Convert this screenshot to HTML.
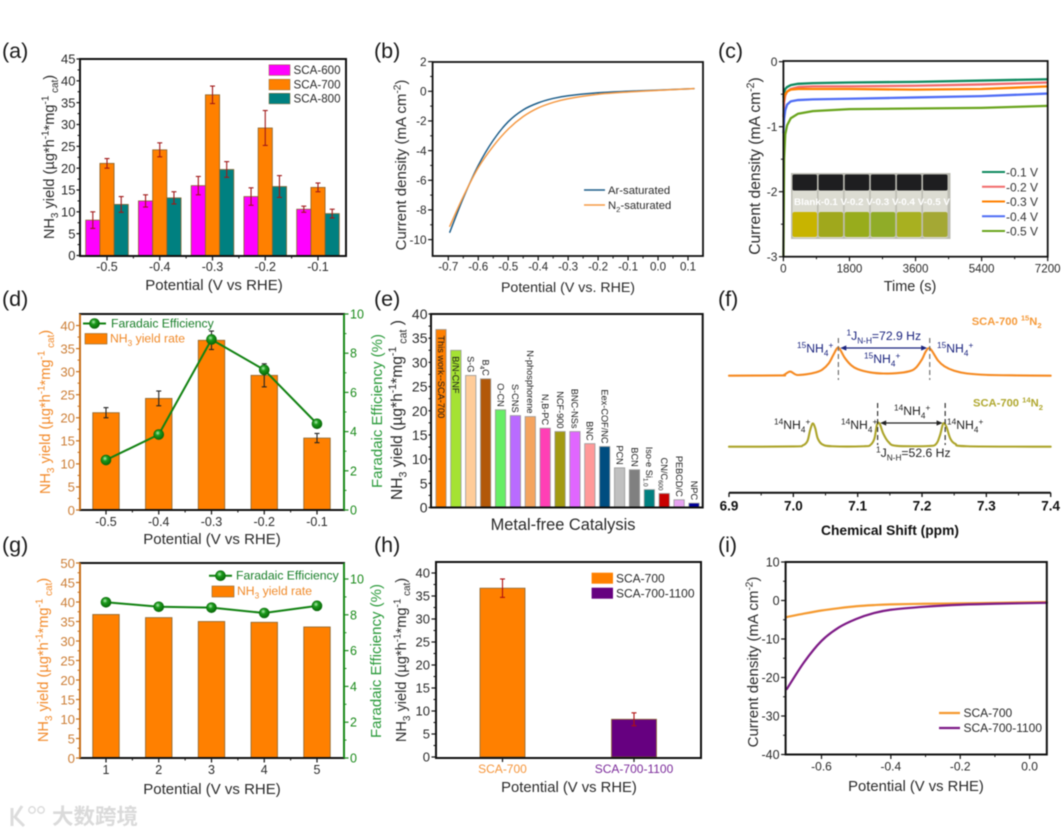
<!DOCTYPE html>
<html lang="en">
<head>
<meta charset="utf-8">
<title>NH3 electrocatalysis figure</title>
<style>
html,body{margin:0;padding:0;background:#fff;}
body{width:1062px;height:834px;overflow:hidden;}
svg{display:block;filter:blur(0.5px);}
text{font-family:"Liberation Sans","Noto Sans CJK SC",sans-serif;}
</style>
</head>
<body>
<svg id="figure" xmlns="http://www.w3.org/2000/svg" width="1062" height="834" viewBox="0 0 1062 834">
<defs>
<radialGradient id="ballGrad" cx="40%" cy="35%" r="70%">
<stop offset="0%" stop-color="#b5efb5"/>
<stop offset="35%" stop-color="#1c9a1c"/>
<stop offset="100%" stop-color="#056305"/>
</radialGradient>
</defs>
</svg>
<script>
/* ---------- panel (a) ---------- */
const aCategories = ['-0.5','-0.4','-0.3','-0.2','-0.1'];
const aSca600 = [8.1,12.5,16,13.5,10.6];
const aSca700 = [21.1,24.2,36.8,29.2,15.6];
const aSca800 = [11.7,13.2,19.7,15.8,9.6];
const aErr600 = [1.9,1.4,2.1,2,0.7];
const aErr700 = [1.1,1.6,2,4,1];
const aErr800 = [1.8,1.4,1.8,2.5,1];
const aTicks = [0,5,10,15,20,25,30,35,40,45];
/* ---------- panel (b) ---------- */
const bPotential = [-0.695,-0.65,-0.6,-0.55,-0.5,-0.45,-0.4,-0.35,-0.3,-0.2,-0.1,0,0.12];
const bAr = [-9.5,-7.2,-5.0,-3.3,-2.05,-1.25,-0.78,-0.48,-0.3,-0.1,0,0.08,0.18];
const bN2 = [-9.1,-7.1,-5.15,-3.7,-2.55,-1.7,-1.12,-0.75,-0.5,-0.2,-0.05,0.06,0.18];
const bXTicks = [-0.7,-0.6,-0.5,-0.4,-0.3,-0.2,-0.1,0,0.1];
const bYTicks = [2,0,-2,-4,-6,-8,-10];
/* ---------- panel (c) ---------- */
const cTime = [0,20,50,100,200,400,800,1800,3600,5400,7200];
const cV1 = [-0.55,-0.47,-0.42,-0.39,-0.36,-0.34,-0.33,-0.32,-0.31,-0.29,-0.27];
const cV2 = [-0.85,-0.62,-0.52,-0.46,-0.42,-0.39,-0.38,-0.38,-0.37,-0.35,-0.32];
const cV3 = [-0.62,-0.55,-0.5,-0.46,-0.43,-0.42,-0.42,-0.42,-0.43,-0.42,-0.38];
const cV4 = [-1.1,-0.88,-0.75,-0.66,-0.61,-0.59,-0.58,-0.57,-0.55,-0.53,-0.49];
const cV5 = [-3,-1.5,-1.12,-0.98,-0.87,-0.8,-0.76,-0.73,-0.72,-0.71,-0.68];
const cSeriesNames = ['-0.1 V','-0.2 V','-0.3 V','-0.4 V','-0.5 V'];
const cXTicks = [0,1800,3600,5400,7200];
const cYTicks = [0,-1,-2,-3];
/* ---------- panel (d) ---------- */
const dCategories = ['-0.5','-0.4','-0.3','-0.2','-0.1'];
const dYield = [21.1,24.2,36.8,29.2,15.6];
const dErr = [1.1,1.6,2,2.5,1];
const dFE = [2.55,3.85,8.7,7.15,4.4];
const dYTicks = [0,5,10,15,20,25,30,35,40];
const dFETicks = [0,2,4,6,8,10];
/* ---------- panel (e) ---------- */
const eCatalysts = ['This work--SCA-700','B/N-CNF','S-G','B_{4}C','O-CN','S-CNS','N-phosphorene','N,B-PC','NCF-900','BNC-NSs','BNC','Eex-COF/NC','PCN','BCN','Iso-e Si_{1.0}','CN/C_{600}','PEBCD/C','NPC'];
const eValues = [36.8,32.5,27.3,26.6,20.2,19,18.8,16.4,15.7,15.7,13.2,12.6,8.2,7.8,3.7,2.9,1.6,0.9];
const eColors = ['#ff8000','#a5e233','#ffcc99','#b25809','#66ee66','#b96bff','#f4a460','#ff3fb5','#a39a12','#e066ff','#ff9999','#004d80','#c0c0c0','#808080','#008080','#c80000','#e6a0f0','#000099'];
const eTicks = [0,5,10,15,20,25,30,35,40];
/* ---------- panel (f) ---------- */
const fPpmOrange = [6.9,6.98,6.985,6.995,7.005,7.02,7.035,7.045,7.055,7.062,7.068,7.072,7.08,7.09,7.1,7.12,7.14,7.16,7.18,7.19,7.2,7.205,7.21,7.215,7.225,7.235,7.25,7.27,7.3,7.35,7.4];
const fOrange = [0,1,2,15,3,5,12,22,45,75,100,98,65,38,24,12,8,9,16,28,60,85,100,92,55,34,18,8,3,1,0];
const fPpmOlive = [6.9,7.0,7.015,7.022,7.026,7.03,7.034,7.038,7.045,7.06,7.11,7.12,7.126,7.13,7.134,7.14,7.148,7.16,7.21,7.222,7.228,7.233,7.238,7.244,7.252,7.27,7.4];
const fOlive = [0,1,6,25,70,100,80,35,10,2,2,8,35,95,100,55,20,4,3,12,50,100,85,35,12,2,0];
const fTicks = [6.9,7.0,7.1,7.2,7.3,7.4];
/* ---------- panel (g) ---------- */
const gCategories = ['1','2','3','4','5'];
const gYield = [36.8,36,35,34.8,33.6];
const gFE = [8.7,8.45,8.4,8.1,8.5];
const gYTicks = [0,5,10,15,20,25,30,35,40,45,50];
const gFETicks = [0,2,4,6,8,10];
/* ---------- panel (h) ---------- */
const hCategories = ['SCA-700','SCA-700-1100'];
const hValues = [36.7,8.2];
const hErr = [2,1.4];
const hTicks = [0,5,10,15,20,25,30,35,40];
/* ---------- panel (i) ---------- */
const iPotential = [-0.7,-0.65,-0.6,-0.55,-0.5,-0.45,-0.4,-0.3,-0.2,-0.1,0.05];
const iSca700 = [-4.3,-3.4,-2.6,-2,-1.5,-1.2,-1.0,-0.85,-0.75,-0.6,-0.4];
const iSca1100 = [-23,-16,-10.5,-7,-4.8,-3.3,-2.4,-1.6,-1.1,-0.85,-0.6];
const iXTicks = [-0.6,-0.4,-0.2,0];
const iYTicks = [10,0,-10,-20,-30,-40];

const svg = document.getElementById('figure');
const NS = 'http://www.w3.org/2000/svg';
const ORANGE = '#ff8000', BAR_EDGE = '#8a6530', GREEN = '#128212';
const INK = '#2a2a2a';

function mk(parent, tag, attrs, name) {
  const e = document.createElementNS(NS, tag);
  for (const k in attrs) e.setAttribute(k, attrs[k]);
  
  
  parent.appendChild(e);
  return e;
}
function linear(d0, d1, r0, r1) {
  return v => r0 + (v - d0) * (r1 - r0) / (d1 - d0);
}
function txt(parent, x, y, str, o, name) {
  o = o || {};
  const size = o.size || 12;
  const a = {x: x, y: y, 'font-size': size, fill: o.fill || INK, 'text-anchor': o.anchor || 'start'};
  if (o.weight) a['font-weight'] = o.weight;
  if (o.rot !== undefined) a.transform = 'rotate(' + o.rot + ' ' + x + ' ' + y + ')';
  if (o.len) { a.textLength = o.len; a.lengthAdjust = 'spacingAndGlyphs'; }
  const t = mk(parent, 'text', a, name);
  let shift = 0;
  str.split(/(_\{[^}]*\}|\^\{[^}]*\})/).forEach(part => {
    if (!part) return;
    const ts = document.createElementNS(NS, 'tspan');
    let target = 0, content = part;
    if (part[0] === '_' && part[1] === '{') { target = size * 0.28; content = part.slice(2, -1); ts.setAttribute('font-size', size * 0.68); }
    else if (part[0] === '^' && part[1] === '{') { target = -size * 0.38; content = part.slice(2, -1); ts.setAttribute('font-size', size * 0.68); }
    if (target !== shift) ts.setAttribute('dy', target - shift);
    shift = target;
    ts.textContent = content;
    t.appendChild(ts);
  });
  return t;
}
function smooth(pts) {
  let d = 'M' + pts[0][0].toFixed(2) + ' ' + pts[0][1].toFixed(2);
  for (let i = 0; i < pts.length - 1; i++) {
    const p0 = pts[Math.max(i - 1, 0)], p1 = pts[i], p2 = pts[i + 1], p3 = pts[Math.min(i + 2, pts.length - 1)];
    const c1x = p1[0] + (p2[0] - p0[0]) / 6, c1y = p1[1] + (p2[1] - p0[1]) / 6;
    const c2x = p2[0] - (p3[0] - p1[0]) / 6, c2y = p2[1] - (p3[1] - p1[1]) / 6;
    d += 'C' + c1x.toFixed(2) + ' ' + c1y.toFixed(2) + ' ' + c2x.toFixed(2) + ' ' + c2y.toFixed(2) + ' ' + p2[0].toFixed(2) + ' ' + p2[1].toFixed(2);
  }
  return d;
}
function curve(g, xs, ys, sx, sy, color, width, name) {
  const pts = xs.map((x, i) => [sx(x), sy(ys[i])]);
  return mk(g, 'path', {d: smooth(pts), fill: 'none', stroke: color, 'stroke-width': width, 'stroke-linejoin': 'round', 'stroke-linecap': 'round'}, name);
}
function line(g, x1, y1, x2, y2, color, w, name, extra) {
  return mk(g, 'line', Object.assign({x1: x1, y1: y1, x2: x2, y2: y2, stroke: color, 'stroke-width': w}, extra || {}), name);
}
function yAxis(g, x, sy, ticks, o) {
  o = o || {};
  const dir = o.right ? 1 : -1, col = o.color || '#111', tc = o.text || INK, size = o.size || 13;
  const gap = o.gap || 6;
  const len = Math.min(4.5, gap - 1);
  ticks.forEach((t, i) => {
    line(g, x, sy(t), x + dir * len, sy(t), col, 1.2, 'y-tick');
    txt(g, x + dir * gap, sy(t) + size * 0.36, String(t), {size: size, fill: tc, anchor: o.right ? 'start' : 'end'}, 'y-tick-label');
    if (o.minor !== false && i < ticks.length - 1) {
      const m = sy((t + ticks[i + 1]) / 2);
      line(g, x, m, x + dir * 2.5, m, col, 1, 'y-minor-tick');
    }
  });
}
function xAxis(g, y, sx, ticks, labels, o) {
  o = o || {};
  const size = o.size || 12.5;
  ticks.forEach((t, i) => {
    line(g, sx(t), y, sx(t), y + 4.5, '#111', 1.2, 'x-tick');
    txt(g, sx(t), o.labelY, labels[i], {size: size, anchor: 'middle', fill: o.text || INK}, 'x-tick-label');
    if (o.minor !== false && i < ticks.length - 1) {
      const m = sx((t + ticks[i + 1]) / 2);
      line(g, m, y, m, y + 2.5, '#111', 1, 'x-minor-tick');
    }
  });
}
function box(g, x0, y0, x1, y1, w) {
  mk(g, 'rect', {x: x0, y: y0, width: x1 - x0, height: y1 - y0, fill: 'none', stroke: '#111', 'stroke-width': w || 2}, 'plot-frame');
}
function bar(g, cx, w, sy, v, base, color, name, edge) {
  mk(g, 'rect', {x: cx - w / 2, y: sy(v), width: w, height: base - sy(v), fill: color, stroke: edge || BAR_EDGE, 'stroke-width': 0.8}, name);
}
function errbar(g, cx, sy, v, e, color) {
  line(g, cx, sy(v + e), cx, sy(v - e), color, 1.1, 'error-bar');
  line(g, cx - 2.5, sy(v + e), cx + 2.5, sy(v + e), color, 1.1, 'error-cap-top');
  line(g, cx - 2.5, sy(v - e), cx + 2.5, sy(v - e), color, 1.1, 'error-cap-bottom');
}
function ball(g, x, y, name) {
  mk(g, 'circle', {cx: x, cy: y, r: 5, fill: 'url(#ballGrad)', stroke: '#0a6a0a', 'stroke-width': 0.6}, name);
}
function panelLabel(text, x, y) {
  txt(svg, x, y, text, {size: 21.5, fill: '#1a1a1a'}, 'panel-label');
}
function idx(i) { return i; }

const NH3_TITLE = 'NH_{3} yield (\u00b5g*h^{-1}*mg^{-1}_{ cat})';

panelLabel('(a)', 2, 58); panelLabel('(b)', 374, 58); panelLabel('(c)', 718, 58);
panelLabel('(d)', 2, 306); panelLabel('(e)', 374, 306); panelLabel('(f)', 718, 306);
panelLabel('(g)', 2, 552); panelLabel('(h)', 374, 552); panelLabel('(i)', 718, 552);

/* panel a */
(function () {
  const g = mk(svg, 'g', {}, 'panel-a-grouped-bars');
  const sy = linear(0, 45, 255.5, 59);
  const sx = linear(0, 4, 107, 318);
  const w = 14.2;
  const series = [[aSca600, aErr600, '#ff00ff', 'sca-600', -1], [aSca700, aErr700, ORANGE, 'sca-700', 0], [aSca800, aErr800, '#008080', 'sca-800', 1]];
  series.forEach(s => s[0].forEach((v, i) => {
    bar(g, sx(i) + s[4] * w, w, sy, v, 255.5, s[2], 'bar-' + s[3] + '-' + aCategories[i]);
  }));
  series.forEach(s => s[0].forEach((v, i) => errbar(g, sx(i) + s[4] * w, sy, v, s[1][i], '#a01818')));
  box(g, 80, 59, 346, 256);
  yAxis(g, 80, sy, aTicks, {gap: 4.5});
  xAxis(g, 256, sx, aCategories.map((c, i) => idx(i)), aCategories, {labelY: 271});
  [['SCA-600', '#ff00ff', 70], ['SCA-700', ORANGE, 84.5], ['SCA-800', '#008080', 98.5]].forEach(l => {
    mk(g, 'rect', {x: 269, y: l[2] - 5.2, width: 21, height: 10.6, fill: l[1], stroke: BAR_EDGE, 'stroke-width': 0.5}, 'legend-swatch');
    txt(g, 293.5, l[2] + 4, l[0], {size: 11.6}, 'legend-entry');
  });
  txt(g, 214, 290, 'Potential (V vs RHE)', {size: 15, anchor: 'middle'}, 'x-axis-title');
  txt(g, 54, 157, NH3_TITLE, {size: 14.6, anchor: 'middle', rot: -90}, 'y-axis-title');
})();

/* panel b */
(function () {
  const g = mk(svg, 'g', {}, 'panel-b-lsv');
  const sx = linear(-0.7, 0.1, 448.3, 688);
  const sy = linear(0, -10, 91.3, 239.6);
  curve(g, bPotential, bAr, sx, sy, '#1f5f8b', 1.5, 'line-ar-saturated');
  curve(g, bPotential, bN2, sx, sy, '#f59a45', 1.5, 'line-n2-saturated');
  box(g, 432.6, 62, 703, 256, 1.8);
  yAxis(g, 432.6, sy, bYTicks, {size: 11.8});
  xAxis(g, 256, sx, bXTicks, bXTicks.map(t => t.toFixed(1)), {labelY: 270.5, size: 11.6});
  line(g, 584, 190, 605, 190, '#1f5f8b', 1.5, 'legend-line-ar');
  txt(g, 608, 194, 'Ar-saturated', {size: 11.3}, 'legend-entry-ar');
  line(g, 584, 205, 605, 205, '#f59a45', 1.5, 'legend-line-n2');
  txt(g, 608, 209, 'N_{2}-saturated', {size: 11.3}, 'legend-entry-n2');
  txt(g, 568, 292, 'Potential  (V vs. RHE)', {size: 14.2, anchor: 'middle'}, 'x-axis-title');
  txt(g, 406, 165, 'Current density (mA cm^{-2})', {size: 15, anchor: 'middle', rot: -90}, 'y-axis-title');
})();

/* panel c */
(function () {
  const g = mk(svg, 'g', {}, 'panel-c-chronoamperometry');
  const sx = linear(0, 7200, 783.4, 1047.7);
  const sy = linear(0, -3, 61.7, 256.7);
  const colors = ['#0f8a5f', '#f26b6b', ORANGE, '#4f6df5', '#6aa51e'];
  [cV1, cV2, cV3, cV4, cV5].forEach((s, i) => {
    const pts = cTime.map((t, j) => sx(t).toFixed(2) + ',' + sy(s[j]).toFixed(2)).join(' ');
    mk(g, 'polyline', {points: pts, fill: 'none', stroke: colors[i], 'stroke-width': 2.3, 'stroke-linejoin': 'round'}, 'line-' + cSeriesNames[i].replace(' ', '').replace('.', '-'));
  });
  box(g, 783.4, 61, 1047.7, 256.7, 1.8);
  yAxis(g, 783.4, sy, cYTicks, {size: 12});
  xAxis(g, 256.7, sx, cXTicks, cXTicks.map(String), {labelY: 272.5, size: 11.6});
  const inset = mk(g, 'g', {}, 'vials-photo');
  mk(inset, 'rect', {x: 791, y: 173, width: 159.5, height: 66, fill: '#bdbdb4'}, 'photo-background');
  const liquids = ['#c8b400', '#a0a81c', '#98ac1c', '#90ac28', '#a8b020', '#a4a834'];
  liquids.forEach((c, i) => {
    const left = 792.5 + i * 26.1;
    mk(inset, 'rect', {x: left, y: 188, width: 24.5, height: 50, rx: 2, fill: '#dcdcd2'}, 'vial-glass');
    mk(inset, 'rect', {x: left, y: 212, width: 24.5, height: 25, rx: 2, fill: c}, 'vial-liquid');
    mk(inset, 'rect', {x: left, y: 174.5, width: 24.5, height: 16, rx: 1.5, fill: '#1e1e20'}, 'vial-cap');
  });
  txt(inset, 794, 205, 'Blank-0.1 V-0.2 V-0.3 V-0.4 V-0.5 V', {size: 9, weight: 'bold', fill: '#fff', len: 156}, 'vials-label');
  cSeriesNames.forEach((n, i) => {
    const y = 172 + i * 14.75;
    line(g, 982, y, 1005, y, colors[i], 2, 'legend-line');
    txt(g, 1006, y + 4.5, n, {size: 12, fill: '#333'}, 'legend-entry');
  });
  txt(g, 910, 291, 'Time (s)', {size: 14.5, anchor: 'middle'}, 'x-axis-title');
  txt(g, 760, 166, 'Current density (mA cm^{-2})', {size: 15.6, anchor: 'middle', rot: -90}, 'y-axis-title');
})();

/* shared dual axis frame */
function dualFrame(g, x0, y0, x1, y1) {
  line(g, x0 - 1, y0, x1 + 1, y0, '#111', 2, 'plot-top-edge');
  line(g, x0 - 1, y1, x1 + 1, y1, '#111', 2, 'plot-bottom-edge');
  line(g, x0, y0, x0, y1, '#c8701a', 2, 'left-axis-line');
  line(g, x1, y0, x1, y1, '#1a8a1a', 2, 'right-axis-line');
}

/* panel d */
(function () {
  const g = mk(svg, 'g', {}, 'panel-d-yield-fe');
  const sx = linear(0, 4, 106, 317);
  const sy = linear(0, 42.5, 510, 314);
  const sf = linear(0, 10, 510, 314);
  dYield.forEach((v, i) => bar(g, sx(i), 26.5, sy, v, 510, ORANGE, 'bar-yield-' + dCategories[i]));
  dYield.forEach((v, i) => errbar(g, sx(i), sy, v, dErr[i], '#222'));
  dualFrame(g, 80, 314, 344, 510);
  yAxis(g, 80, sy, dYTicks, {color: '#c8701a', text: '#cc7f38', size: 13.2, gap: 5});
  yAxis(g, 344, sf, dFETicks, {right: true, color: '#1a8a1a', text: '#1a8a1a', size: 12.5});
  xAxis(g, 510, sx, dCategories.map((c, i) => idx(i)), dCategories, {labelY: 526, minor: true});
  mk(g, 'polyline', {points: dFE.map((v, i) => sx(i) + ',' + sf(v)).join(' '), fill: 'none', stroke: GREEN, 'stroke-width': 2}, 'line-faradaic-efficiency');
  dFE.forEach((v, i) => ball(g, sx(i), sf(v), 'point-fe-' + dCategories[i]));
  line(g, 83, 323.5, 106, 323.5, GREEN, 2, 'legend-line-fe');
  ball(g, 94.5, 323.5, 'legend-marker-fe');
  txt(g, 111, 327.5, 'Faradaic Efficiency', {size: 12.2, fill: '#1a7f2a'}, 'legend-entry-fe');
  mk(g, 'rect', {x: 85, y: 333.5, width: 22, height: 10.5, fill: ORANGE, stroke: BAR_EDGE, 'stroke-width': 0.6}, 'legend-swatch-yield');
  txt(g, 110, 342.5, 'NH_{3} yield rate', {size: 12.2, fill: '#f08a2a'}, 'legend-entry-yield');
  txt(g, 212, 544, 'Potential (V vs RHE)', {size: 15, anchor: 'middle'}, 'x-axis-title');
  txt(g, 50, 412, NH3_TITLE, {size: 14.6, anchor: 'middle', rot: -90, fill: '#f28a2a'}, 'left-y-axis-title');
  txt(g, 382, 411, 'Faradaic Efficiency (%)', {size: 15, anchor: 'middle', rot: -90, fill: '#2a9a3a'}, 'right-y-axis-title');
})();

/* panel e */
(function () {
  const g = mk(svg, 'g', {}, 'panel-e-comparison');
  const sy = linear(0, 40, 507.5, 314);
  const sx = linear(0, 17, 441, 694);
  eValues.forEach((v, i) => {
    bar(g, sx(i), 10.3, sy, v, 507.5, eColors[i], 'bar-catalyst-' + (i + 1), '#999');
  });
  eValues.forEach((v, i) => {
    const inside = i < 2;
    const y = inside ? sy(v) + 6 : sy(v) - 3;
    txt(g, sx(i) - 3.2, y, eCatalysts[i], {size: 9.2, fill: '#1a1a1a', rot: 90, anchor: inside ? 'start' : 'end'}, 'catalyst-label');
  });
  box(g, 431, 314, 702.7, 507.5);
  yAxis(g, 431, sy, eTicks, {size: 14, gap: 3.5});
  txt(g, 563, 530, 'Metal-free Catalysis', {size: 16.4, anchor: 'middle'}, 'x-axis-title');
  txt(g, 402, 410, 'NH_{3} yield (\u00b5g*h^{-1}*mg^{-1}_{ cat} )', {size: 15.6, anchor: 'middle', rot: -90}, 'y-axis-title');
})();

/* panel f */
(function () {
  const g = mk(svg, 'g', {}, 'panel-f-nmr');
  const sx = linear(6.9, 7.4, 729, 1050.7);
  const sOrange = linear(0, 100, 375.7, 348.3);
  const sOlive = linear(0, 100, 446.7, 423.5);
  curve(g, fPpmOrange, fOrange, sx, sOrange, '#f58a22', 2.1, 'nmr-trace-15n2');
  curve(g, fPpmOlive, fOlive, sx, sOlive, '#aca42a', 2.1, 'nmr-trace-14n2');
  line(g, 729, 492.7, 1050.7, 492.7, '#111', 2, 'x-axis-line');
  fTicks.forEach((t, i) => {
    line(g, sx(t), 492.7, sx(t), 497, '#111', 1.3, 'x-tick');
    txt(g, sx(t), 510.7, t.toFixed(1), {size: 13.5, weight: 'bold', anchor: 'middle', fill: '#111'}, 'x-tick-label');
    if (i < fTicks.length - 1) line(g, sx(t + 0.05), 492.7, sx(t + 0.05), 495.5, '#111', 1, 'x-minor-tick');
  });
  txt(g, 890, 535, 'Chemical Shift (ppm)', {size: 13.8, weight: 'bold', anchor: 'middle', fill: '#111'}, 'x-axis-title');
  const dash = {'stroke-dasharray': '5 3'};
  line(g, sx(7.07), 338, sx(7.07), 380, '#666', 1.1, 'peak-marker', dash);
  line(g, sx(7.212), 338, sx(7.212), 380, '#666', 1.1, 'peak-marker', dash);
  line(g, sx(7.131), 403, sx(7.131), 445, '#222', 1.1, 'peak-marker', dash);
  line(g, sx(7.236), 403, sx(7.236), 445, '#222', 1.1, 'peak-marker', dash);
  const navy = '#1a237e';
  function arrow(x0, x1, y, c, n) {
    line(g, x0 + 3, y, x1 - 3, y, c, 1.3, n);
    mk(g, 'polygon', {points: x0 + ',' + y + ' ' + (x0 + 6) + ',' + (y - 2.6) + ' ' + (x0 + 6) + ',' + (y + 2.6), fill: c}, n + '-head-left');
    mk(g, 'polygon', {points: x1 + ',' + y + ' ' + (x1 - 6) + ',' + (y - 2.6) + ' ' + (x1 - 6) + ',' + (y + 2.6), fill: c}, n + '-head-right');
  }
  arrow(sx(7.073), sx(7.208), 348, navy, 'j-arrow-15n');
  arrow(sx(7.135), sx(7.232), 423, '#222', 'j-arrow-14n');
  const lab = {size: 12.2, fill: navy};
  const labK = {size: 12.2, fill: '#222'};
  txt(g, 797, 352.7, '^{15}NH_{4}^{+}', lab, 'peak-label-15n');
  txt(g, 864, 363, '^{15}NH_{4}^{+}', lab, 'peak-label-15n');
  txt(g, 937, 352.7, '^{15}NH_{4}^{+}', lab, 'peak-label-15n');
  txt(g, 846.5, 340, '^{1}J_{N-H}=72.9 Hz', {size: 12.2, fill: navy}, 'coupling-label-15n');
  txt(g, 971.7, 325, 'SCA-700 ^{15}N_{2}', {size: 11.2, weight: 'bold', fill: '#f59a3a'}, 'trace-label-15n2');
  txt(g, 973, 406.7, 'SCA-700 ^{14}N_{2}', {size: 11.2, weight: 'bold', fill: '#b0a830'}, 'trace-label-14n2');
  txt(g, 774, 429, '^{14}NH_{4}^{+}', labK, 'peak-label-14n');
  txt(g, 841, 429, '^{14}NH_{4}^{+}', labK, 'peak-label-14n');
  txt(g, 947, 429, '^{14}NH_{4}^{+}', labK, 'peak-label-14n');
  txt(g, 894, 415, '^{14}NH_{4}^{+}', labK, 'peak-label-14n');
  txt(g, 876, 457, '^{1}J_{N-H}=52.6 Hz', {size: 12.2, fill: '#222'}, 'coupling-label-14n');
})();

/* panel g */
(function () {
  const g = mk(svg, 'g', {}, 'panel-g-stability');
  const sx = linear(0, 4, 106, 317);
  const sy = linear(0, 50, 758, 563);
  const sf = linear(0, 10, 758, 579);
  gYield.forEach((v, i) => bar(g, sx(i), 26.5, sy, v, 758, ORANGE, 'bar-cycle-' + gCategories[i]));
  dualFrame(g, 80, 563, 344, 758);
  yAxis(g, 80, sy, gYTicks, {color: '#c8701a', text: '#cc7f38', size: 13.2, minor: true, gap: 5});
  yAxis(g, 344, sf, gFETicks, {right: true, color: '#1a8a1a', text: '#1a8a1a', size: 12.5});
  xAxis(g, 758, sx, gCategories.map((c, i) => idx(i)), gCategories, {labelY: 774});
  mk(g, 'polyline', {points: gFE.map((v, i) => sx(i) + ',' + sf(v)).join(' '), fill: 'none', stroke: GREEN, 'stroke-width': 2}, 'line-faradaic-efficiency');
  gFE.forEach((v, i) => ball(g, sx(i), sf(v), 'point-fe-cycle-' + gCategories[i]));
  line(g, 209, 575.7, 232, 575.7, GREEN, 2, 'legend-line-fe');
  ball(g, 220.5, 575.7, 'legend-marker-fe');
  txt(g, 236, 579.7, 'Faradaic Efficiency', {size: 12.2, fill: '#1a7f2a'}, 'legend-entry-fe');
  mk(g, 'rect', {x: 212, y: 586, width: 22, height: 11, fill: ORANGE, stroke: BAR_EDGE, 'stroke-width': 0.6}, 'legend-swatch-yield');
  txt(g, 237, 595, 'NH_{3} yield rate', {size: 12.2, fill: '#f08a2a'}, 'legend-entry-yield');
  txt(g, 212, 794, 'Potential (V vs RHE)', {size: 15, anchor: 'middle'}, 'x-axis-title');
  txt(g, 48, 660, NH3_TITLE, {size: 14.6, anchor: 'middle', rot: -90, fill: '#f28a2a'}, 'left-y-axis-title');
  txt(g, 381, 661, 'Faradaic Efficiency (%)', {size: 15, anchor: 'middle', rot: -90, fill: '#2a9a3a'}, 'right-y-axis-title');
})();

/* panel h */
(function () {
  const g = mk(svg, 'g', {}, 'panel-h-control');
  const sx = linear(0, 1, 502.5, 634);
  const sy = linear(0, 40, 757, 573);
  const colors = [ORANGE, '#660080'];
  const labelColors = ['#f5953a', '#7b2a9a'];
  hValues.forEach((v, i) => bar(g, sx(i), 45, sy, v, 757, colors[i], 'bar-' + hCategories[i].toLowerCase()));
  hValues.forEach((v, i) => errbar(g, sx(i), sy, v, hErr[i], '#b01010'));
  box(g, 436, 562, 701, 758);
  yAxis(g, 436, sy, hTicks, {size: 13});
  hCategories.forEach((c, i) => {
    line(g, sx(i), 758, sx(i), 762, '#111', 1.2, 'x-tick');
    txt(g, sx(i), 773, c, {size: 12, anchor: 'middle', fill: labelColors[i]}, 'x-tick-label');
    mk(g, 'rect', {x: 591.6, y: 572.7 + i * 15, width: 21.4, height: 11, fill: colors[i]}, 'legend-swatch');
    txt(g, 616, 582.5 + i * 15, c, {size: 12}, 'legend-entry');
  });
  txt(g, 569, 792, 'Potential (V vs RHE)', {size: 14.8, anchor: 'middle'}, 'x-axis-title');
  txt(g, 406, 660, NH3_TITLE, {size: 14.6, anchor: 'middle', rot: -90}, 'y-axis-title');
})();

/* panel i */
(function () {
  const g = mk(svg, 'g', {}, 'panel-i-lsv');
  const sx = linear(-0.6, 0, 821.5, 1029.6);
  const sy = linear(0, -40, 600.5, 754.5);
  curve(g, iPotential, iSca700, sx, sy, '#f59a30', 2.2, 'line-sca-700');
  curve(g, iPotential, iSca1100, sx, sy, '#7d1a86', 2.2, 'line-sca-700-1100');
  box(g, 785.6, 562, 1046.8, 754.5);
  yAxis(g, 785.6, sy, iYTicks, {size: 12.5});
  xAxis(g, 754.5, sx, iXTicks, iXTicks.map(t => t.toFixed(1)), {labelY: 770.7, size: 12});
  line(g, 939, 713, 960, 713, '#f59a30', 2.2, 'legend-line-sca-700');
  txt(g, 963.5, 717, 'SCA-700', {size: 12}, 'legend-entry-sca-700');
  line(g, 939, 728, 960, 728, '#7d1a86', 2.2, 'legend-line-sca-700-1100');
  txt(g, 963.5, 732, 'SCA-700-1100', {size: 12}, 'legend-entry-sca-700-1100');
  txt(g, 916, 791, 'Potential (V vs RHE)', {size: 14.8, anchor: 'middle'}, 'x-axis-title');
  txt(g, 758, 662, 'Current density (mA cm^{-2})', {size: 15, anchor: 'middle', rot: -90}, 'y-axis-title');
})();

/* watermark */
(function () {
  const g = mk(svg, 'g', {}, 'watermark');
  line(g, 12, 808, 12, 826, '#dcdcdc', 3, 'watermark-logo-stem');
  mk(g, 'path', {d: 'M22 806 L15 817 L24 826', fill: 'none', stroke: '#dcdcdc', 'stroke-width': 3}, 'watermark-logo-arm');
  mk(g, 'circle', {cx: 32, cy: 810, r: 3.2, fill: 'none', stroke: '#dcdcdc', 'stroke-width': 1.5}, 'watermark-logo-ring');
  mk(g, 'circle', {cx: 41, cy: 810, r: 3.2, fill: 'none', stroke: '#dcdcdc', 'stroke-width': 1.5}, 'watermark-logo-ring');
  txt(g, 52, 824, '\u5927\u6570\u8de8\u5883', {size: 21.5, weight: 'bold', fill: '#dadada'}, 'watermark-text');
})();
</script>
</body>
</html>
